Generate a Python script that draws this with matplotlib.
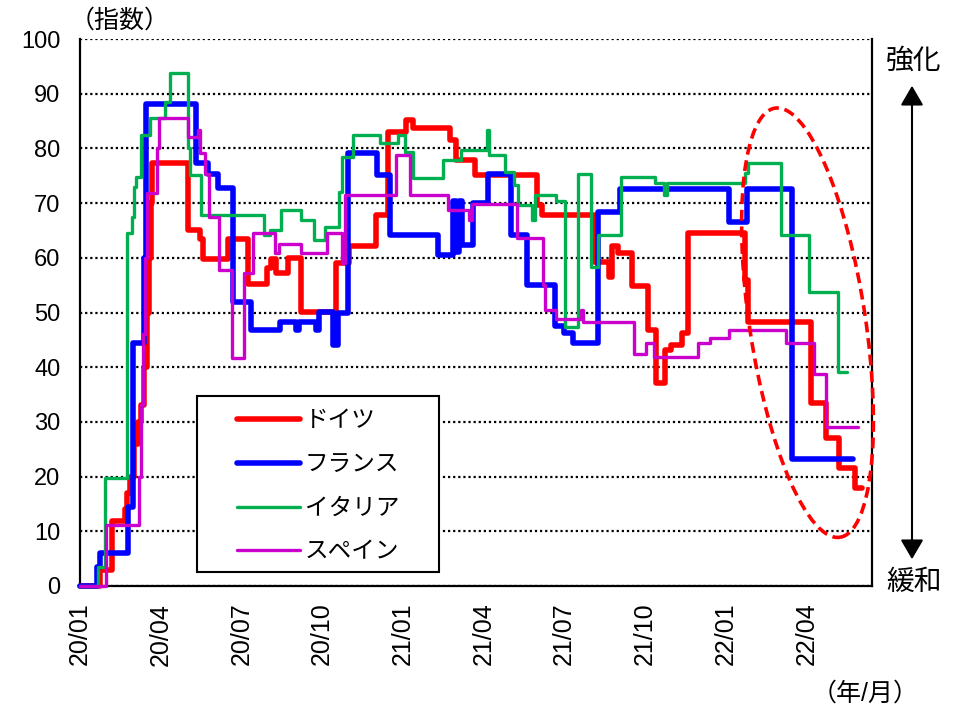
import matplotlib
matplotlib.use('Agg')
import matplotlib.pyplot as plt
from matplotlib.patches import Ellipse, Rectangle, FancyArrowPatch

plt.rcParams['font.family'] = ['Liberation Sans', 'Noto Sans CJK JP', 'DejaVu Sans']

# x = months since 2020/01/01
tick_pos = [0, 3, 6, 9, 12, 15, 18, 21, 24, 27]
tick_labels = ['20/01', '20/04', '20/07', '20/10', '21/01', '21/04', '21/07', '21/10', '22/01', '22/04']
series_names = ['ドイツ', 'フランス', 'イタリア', 'スペイン']

de_x = [0, 0.74, 1.19, 1.67, 1.75, 1.86, 2.01, 2.16, 2.27, 2.38, 2.49, 2.57, 2.64, 2.68, 4.01, 4.46, 4.57,
        5.50, 6.25, 6.95, 7.10, 7.29, 7.73, 8.22, 9.52, 10.00, 11.00, 11.45, 12.12, 12.38, 13.75, 13.98,
        14.68, 16.99, 17.17, 19.11, 19.67, 19.78, 20.00, 20.52, 21.12, 21.41, 21.75, 21.97, 22.38, 22.60,
        24.72, 24.83, 27.17, 27.73, 28.22, 28.81, 29.07]
de_y = [0, 3, 11.8, 14, 17, 20, 26, 30, 33, 40, 50, 60, 70, 77.3, 65.1, 63.5, 59.7,
        63.4, 55.3, 58.1, 59.8, 57.2, 59.9, 50.1, 59, 62.2, 67.8, 83, 85.2, 83.7, 81.5, 77.8,
        75.1, 69.7, 67.8, 59.2, 56.4, 62.2, 60.8, 54.8, 46.8, 37.1, 43.1, 44.1, 46.2, 64.5,
        56, 48.3, 33.4, 27, 21.5, 17.9, 17.9]

fr_x = [0, 0.63, 0.74, 1.78, 1.97, 2.38, 2.45, 4.31, 4.76, 5.13, 5.69, 6.36, 7.43, 8.03, 8.14, 8.77,
        8.88, 9.41, 9.59, 9.96, 11.04, 11.52, 13.31, 13.87, 13.98, 14.09, 14.20, 14.61, 15.17, 16.02,
        16.62, 17.66, 17.99, 18.33, 19.26, 20.07, 24.13, 24.80, 26.47, 28.74]
fr_y = [0, 3.5, 6, 14.5, 44.4, 60, 88.2, 77.3, 75.4, 72.7, 52, 46.8, 48.3, 46.8, 48.3, 46.8,
        50.1, 44.1, 49.9, 79.1, 75.1, 64.2, 60.5, 70.3, 61, 70.3, 62.3, 70, 75.4, 64.2,
        55, 47.5, 46.2, 44.4, 68.3, 72.5, 66.6, 72.5, 23.3, 23.3]

it_x = [0, 0.67, 0.93, 1.75, 1.93, 2.01, 2.08, 2.27, 2.60, 3.16, 3.35, 4.01, 4.09, 4.50, 6.84, 7.06,
        7.47, 8.22, 8.70, 9.11, 9.63, 9.74, 10.15, 11.15, 11.82, 12.08, 12.38, 13.49, 14.16, 15.13,
        15.20, 15.80, 16.13, 16.28, 16.80, 16.91, 17.70, 18.03, 18.51, 19.00, 19.26, 20.11, 21.38,
        21.71, 21.82, 24.72, 24.83, 26.06, 27.10, 28.18, 28.51]
it_y = [0, 3.5, 19.7, 64.5, 67.5, 73, 74.8, 82.4, 85.5, 88.5, 93.7, 80, 75.1, 67.8, 64.2, 65.1,
        68.7, 66.9, 63.3, 65.7, 72, 78.5, 82.4, 80.9, 82.4, 79.4, 74.5, 77.9, 79.7, 83.4,
        78.8, 75.7, 73.3, 69.7, 66.9, 71.5, 70.3, 47.4, 75.4, 58.4, 64.2, 74.8, 73.6,
        71.5, 73.6, 75.5, 77.3, 64.2, 53.8, 39.2, 39.2]

es_x = [0, 0.97, 2.19, 2.27, 2.34, 2.42, 2.49, 2.86, 2.94, 4.01, 4.39, 4.46, 4.65, 4.80, 5.17, 5.65,
        6.10, 6.43, 7.25, 7.40, 8.22, 9.18, 9.74, 9.85, 11.75, 12.27, 13.68, 14.46, 14.57, 16.25,
        17.21, 17.29, 17.70, 18.62, 18.70, 20.59, 21.04, 21.34, 22.97, 23.42, 24.13, 26.25, 27.29,
        27.73, 28.92]
es_y = [0, 11.2, 20, 33, 46, 60, 71.8, 80, 85.5, 82.1, 83.4, 79.1, 75.4, 67.5, 57.8, 41.6,
        57.2, 64.5, 60.8, 62.6, 60.8, 64.5, 59, 71.5, 78.8, 71.5, 68.7, 66.9, 69.9, 63.7,
        55, 50.5, 48.9, 50.5, 48.2, 42.4, 44.4, 41.9, 44.4, 45.3, 46.8, 44.4, 38.8,
        29.1, 29.1]

W, H = 962, 711
fig = plt.figure(figsize=(W / 100, H / 100), dpi=100)
ax = fig.add_axes([80 / W, 125 / H, 792 / W, 547 / H])

styles = [
    (de_x, de_y, '#FF0000', 4.0),
    (fr_x, fr_y, '#0000FF', 4.0),
    (it_x, it_y, '#00B050', 2.4),
    (es_x, es_y, '#CC00CC', 2.4),
]
handles = []
for (xs, ys, c, lw), name in zip(styles, series_names):
    ln, = ax.plot(xs, ys, drawstyle='steps-post', color=c, lw=lw, label=name,
                  solid_joinstyle='round', solid_capstyle='round', clip_on=False, zorder=3)
    handles.append(ln)

ax.set_xlim(0, 29.44)
ax.set_ylim(0, 100)
ax.set_yticks(range(0, 101, 10))
ax.set_xticks(tick_pos)
ax.set_xticklabels(tick_labels, rotation=90, fontsize=18)
ax.tick_params(axis='y', length=0, pad=14, labelsize=17)
ax.tick_params(axis='x', length=0, pad=12)
ax.yaxis.grid(True, color='black', linestyle=(0, (1, 1.3)), linewidth=1.6, zorder=1)
ax.set_axisbelow(True)
for s in ['left', 'bottom', 'right']:
    ax.spines[s].set_linewidth(1.6)
    ax.spines[s].set_color('black')
ax.spines['top'].set_visible(False)

# legend box
ax.add_patch(Rectangle((0.1477, 0.0256), 0.3056, 0.3217, transform=ax.transAxes,
                       facecolor='white', edgecolor='black', lw=1.5, zorder=4))
leg = ax.legend(handles=handles, loc='center', bbox_to_anchor=(0.3005, 0.181), frameon=False,
                fontsize=17, handlelength=2.67, handletextpad=0.21, labelspacing=0.92)
leg.set_zorder(5)

# dashed ellipse
ell = Ellipse((807.5 / 100, (H - 322.7) / 100), 1.16, 4.34, angle=8.6,
              transform=fig.dpi_scale_trans, fill=False, edgecolor='#FF0000', lw=2.6,
              linestyle=(0, (3, 1.6)), zorder=6)
fig.add_artist(ell)

# arrow + labels
arr = FancyArrowPatch((912 / W, 1 - 562 / H), (912 / W, 1 - 83 / H), transform=fig.transFigure,
                      arrowstyle='<|-|>,head_length=0.6,head_width=0.35', mutation_scale=20,
                      lw=1.5, color='black')
fig.add_artist(arr)
fig.text(914 / W, 1 - 62 / H, '強化', ha='center', va='center', fontsize=20)
fig.text(914 / W, 1 - 583 / H, '緩和', ha='center', va='center', fontsize=20)
fig.text(120 / W, 1 - 21 / H, '（指数）', ha='center', va='center', fontsize=18)
fig.text(865 / W, 1 - 694 / H, '（年/月）', ha='center', va='center', fontsize=18)

fig.savefig('out.png', dpi=100)
